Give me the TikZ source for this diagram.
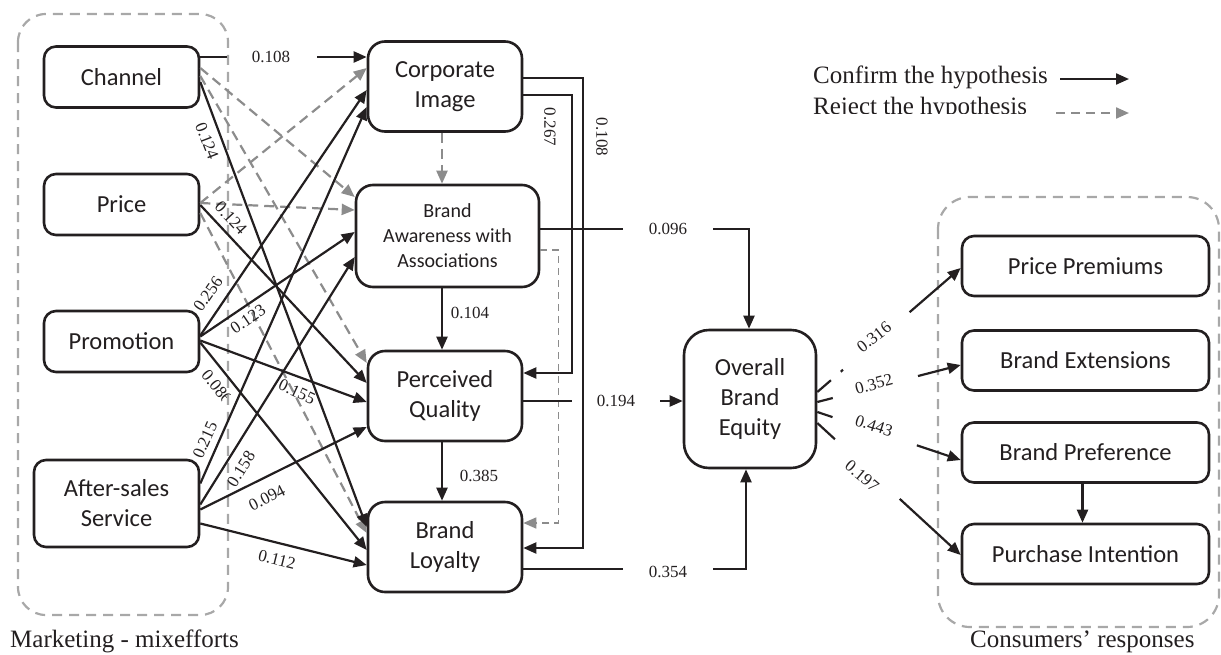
\documentclass[tikz,border=0pt]{standalone}
\usepackage{fontspec}
\setmainfont{Liberation Serif}
\newfontfamily\cali{Carlito}
\usetikzlibrary{arrows.meta,calc}
\definecolor{ink}{HTML}{231F20}
\definecolor{rej}{HTML}{8C8C8C}
\definecolor{grp}{HTML}{A8A8A8}
\tikzset{
  box/.style={draw=ink, fill=white, line width=2.6pt, rounded corners=12pt, inner sep=0pt,
    align=center, text=ink, font=\cali\fontsize{24.5}{30}\selectfont},
  midbox/.style={box, rounded corners=17pt, minimum width=154pt, minimum height=90pt},
  leftbox/.style={box, minimum width=155pt, minimum height=61pt},
  rightbox/.style={box, minimum width=247pt, minimum height=60pt},
  conf/.style={draw=ink, line width=2.2pt, -{Triangle[length=13pt,width=11pt]}},
  rejarr/.style={draw=rej, line width=2.2pt, dash pattern=on 10pt off 6pt, -{Triangle[length=13pt,width=11pt]}},
  rejthin/.style={draw=rej, line width=1.5pt, dash pattern=on 7pt off 5pt, -{Triangle[length=13pt,width=11pt]}},
  num/.style={font=\fontsize{17}{17}\selectfont, text=ink, inner sep=0pt},
  legt/.style={font=\fontsize{25}{30}\selectfont, text=ink, inner sep=0pt},
  grpbox/.style={draw=grp, line width=2.2pt, dash pattern=on 10pt off 7pt},
}
\begin{document}
\begin{tikzpicture}[x=1pt,y=-1pt]
\useasboundingbox (0,0) rectangle (1221,654);

% group frames
\draw[grpbox, rounded corners=28pt] (18,14) rectangle (228,615);
\draw[grpbox, rounded corners=32pt] (938,197) rectangle (1219,627);

% nodes
\node[leftbox] (ch) at (121.5,77) {Channel};
\node[leftbox] (pc) at (121.5,204.5) {Price};
\node[leftbox] (pm) at (121.5,341.5) {Promotion};
\node[box, minimum width=165pt, minimum height=87pt] (as) at (116.5,503.5) {After-sales\\Service};

\node[midbox] (ci) at (445,86.5) {Corporate\\Image};
\node[midbox, minimum width=183pt, minimum height=102pt, font=\cali\fontsize{20}{25}\selectfont] (ba) at (447.5,236) {Brand\\Awareness with\\Associations};
\node[midbox] (pq) at (445,396) {Perceived\\Quality};
\node[midbox] (bl) at (445,547) {Brand\\Loyalty};

\node[box, rounded corners=25pt, minimum width=132pt, minimum height=138pt] (obe) at (750,399) {Overall\\Brand\\Equity};

\node[rightbox] (pp) at (1085.5,266) {Price Premiums};
\node[rightbox] (be) at (1085.5,360.5) {Brand Extensions};
\node[rightbox] (bp) at (1085.5,452.5) {Brand Preference};
\node[rightbox] (pi) at (1085.5,554) {Purchase Intention};

% rejected (dashed) paths
\draw[rejarr] ($(ch.east)+(0,-9)$) -- ($(ba.west)+(0,-39)$);
\draw[rejarr] ($(ch.east)+(0,-1)$) -- ($(pq.west)+(0,-33)$);
\draw[rejarr] ($(pc.east)+(0,-1.5)$) -- ($(ci.west)+(0,-18.5)$);
\draw[rejarr] ($(pc.east)+(0,-1.5)$) -- ($(ba.west)+(0,-26)$);
\draw[rejarr] ($(pc.east)+(0,8.5)$) -- ($(bl.west)+(0,-14)$);
\draw[rejarr] ($(ci.south)+(-3,0)$) -- ($(ba.north)+(-5.5,0)$);
\draw[rejthin] ($(ba.east)+(0,14)$) -- ++(18,0) |- ($(bl.east)+(0,-24)$);

% confirmed paths from marketing mix
\draw[conf, dash pattern=on 27pt off 90pt on 300pt] ($(ch.east)+(0,-20)$) -- ($(ci.west)+(0,-29.5)$);
\draw[conf] ($(ch.east)+(0,5)$) -- ($(bl.west)+(0,-20)$);
\draw[conf] ($(pc.east)+(0,0.5)$) -- ($(pq.west)+(0,-13)$);
\draw[conf] ($(pm.east)+(0,-6)$) -- ($(ci.west)+(0,3.5)$);
\draw[conf] ($(pm.east)+(0,-5)$) -- ($(ba.west)+(0,-4)$);
\draw[conf] ($(pm.east)+(0,-1)$) -- ($(pq.west)+(0,6)$);
\draw[conf] ($(pm.east)+(0,1)$) -- ($(bl.west)+(0,3)$);
\draw[conf] ($(as.east)+(0,-20)$) -- ($(ci.west)+(0,20.5)$);
\draw[conf] ($(as.east)+(0,1)$) -- ($(ba.west)+(0,21)$);
\draw[conf] ($(as.east)+(0,6)$) -- ($(pq.west)+(0,31)$);
\draw[conf] ($(as.east)+(0,20)$) -- ($(bl.west)+(0,18)$);

% middle column paths
\draw[conf] ($(ba.south)+(-5.5,0)$) -- ($(pq.north)+(-3,0)$);
\draw[conf] ($(pq.south)+(-3,0)$) -- ($(bl.north)+(-3,0)$);
\draw[conf] ($(ci.east)+(0,8.5)$) -- ++(49,0) |- ($(pq.east)+(0,-23)$);
\draw[conf] ($(ci.east)+(0,-8.5)$) -- ++(60,0) |- ($(bl.east)+(0,1)$);

% to overall brand equity
\draw[conf, dash pattern=on 83pt off 90pt on 400pt] ($(ba.east)+(0,-7)$) -| ($(obe.north)+(-1,0)$);
\draw[conf, dash pattern=on 49pt off 88pt on 300pt] ($(pq.east)+(0,5)$) -- ($(obe.west)+(0,2)$);
\draw[conf, dash pattern=on 100pt off 90pt on 400pt] ($(bl.east)+(0,22)$) -| ($(obe.south)+(-4,0)$);

% consumer responses
\draw[conf, dash pattern=on 18pt off 13pt on 3pt off 88pt on 300pt] ($(obe.east)+(0,-7)$) -- ($(pp.west)+(0,2)$);
\draw[conf, dash pattern=on 16pt off 88pt on 300pt] ($(obe.east)+(0,3)$) -- ($(be.west)+(0,4.5)$);
\draw[conf, dash pattern=on 16pt off 89pt on 300pt] ($(obe.east)+(0,13)$) -- ($(bp.west)+(0,7.5)$);
\draw[conf, dash pattern=on 24pt off 88pt on 300pt] ($(obe.east)+(0,24)$) -- ($(pi.west)+(0,1)$);
\draw[conf] ($(bp.south)+(-3,0)$) -- ($(pi.north)+(-3,0)$);

% coefficient labels
\node[num] (n1) at (271,57) {0.108};
\node[num, rotate=-69] (n2) at (207,141) {0.124};
\node[num, rotate=-47] (n3) at (231,218) {0.124};
\node[num, rotate=55] (n4) at (208,294) {0.256};
\node[num, rotate=34] (n5) at (248,319) {0.123};
\node[num, rotate=-25] (n6) at (297,392) {0.155};
\begin{scope}[shift={(217,387)}, rotate=-51]
  \clip (-26,-12) rectangle (14,12);
  \node[num, transform shape] (n7) at (0,0) {0.086};
\end{scope}
\node[num, rotate=66] (n8) at (205,440) {0.215};
\node[num, rotate=58] (n9) at (241,469) {0.158};
\node[num, rotate=27] (n10) at (267,498) {0.094};
\node[num, rotate=-14] (n11) at (277,560) {0.112};
\node[num] (n12) at (470,313) {0.104};
\node[num] (n13) at (479,476) {0.385};
\node[num, rotate=-90] (n14) at (550,127) {0.267};
\node[num, rotate=-90] (n15) at (602,137) {0.108};
\node[num] (n16) at (668,229) {0.096};
\node[num] (n17) at (616,401) {0.194};
\node[num] (n18) at (668,572) {0.354};
\node[num, rotate=38] (n19) at (874,337) {0.316};
\node[num, rotate=15] (n20) at (874,384) {0.352};
\node[num, rotate=-18] (n21) at (874,426) {0.443};
\node[num, rotate=-40] (n22) at (862,476) {0.197};

% legend
\node[legt, anchor=base west] (lg1) at (813,83) {Confirm the hypothesis};
\coordinate (la1) at (1060,79);
\coordinate (la2) at (1129,79);
\draw[conf] (la1) -- (la2);
\begin{scope}
  \clip (800,88) rectangle (1052,113.5);
  \node[legt, anchor=base west] (lg2) at (813,114) {Reject the hypothesis};
\end{scope}
\coordinate (lb1) at (1056,113);
\coordinate (lb2) at (1129,113);
\draw[rejarr, dash pattern=on 9pt off 6pt] (lb1) -- (lb2);

% captions
\node[legt, anchor=base west] (cap1) at (10,647) {Marketing - mixefforts};
\node[legt, anchor=base west] (cap2) at (970,647) {Consumers’ responses};
\end{tikzpicture}
\end{document}
